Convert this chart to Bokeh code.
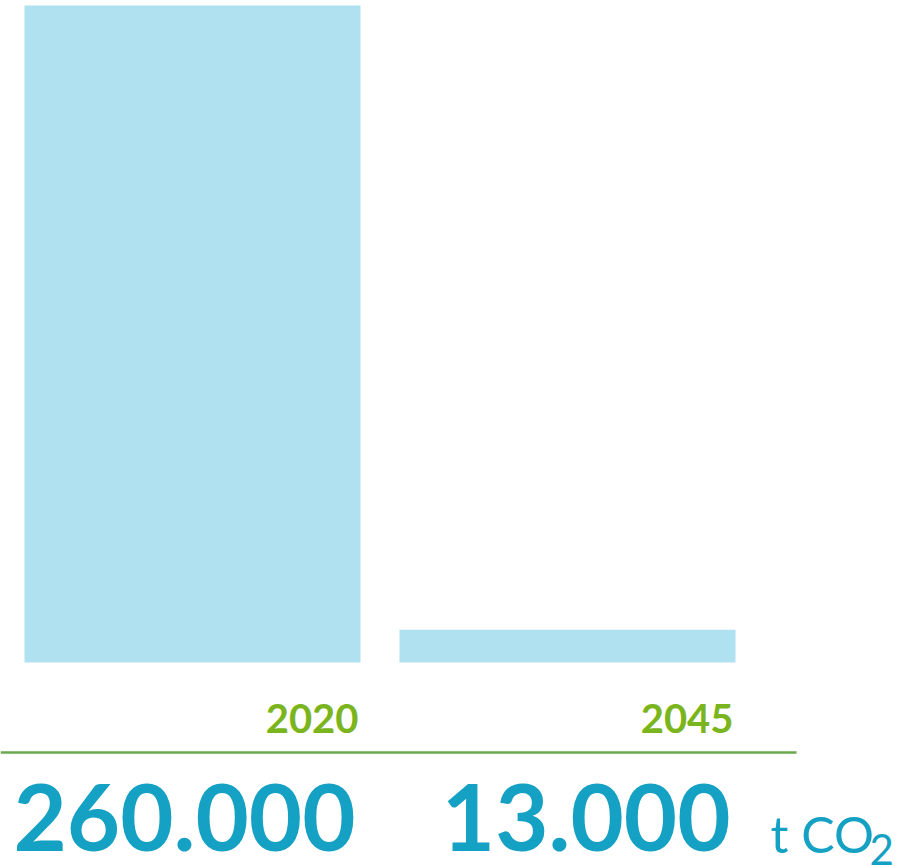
from bokeh.plotting import figure
from bokeh.models import Label, Range1d, ColumnDataSource
from bokeh.embed import file_html
from bokeh.resources import INLINE

years = ["2020", "2045"]
emissions = [260000, 13000]
unit_main = "t CO"
unit_sub = "2"

BAR = "#b0e1f0"
GREEN = "#7ab51d"
LINE = "#6aa84f"
TEAL = "#15a1c3"
FONT = "Lato"

idx = list(range(len(years)))
src = ColumnDataSource(dict(x=idx, top=emissions))

W, H = 910, 866
p = figure(width=W, height=H, output_backend="svg", toolbar_location=None,
           x_range=Range1d(-0.512, -0.512 + W / 375.0),
           y_range=Range1d(-(204 / 657) * 260000, (662 / 657) * 260000),
           min_border=0)
p.axis.visible = False
p.grid.visible = False
p.outline_line_color = None
p.background_fill_color = "white"
p.border_fill_color = "white"

p.vbar(x="x", top="top", bottom=0, width=0.896, source=src,
       fill_color=BAR, line_color=None)

# green separator line
y_line = (662 - 752) / 657 * 260000
p.segment(x0=[-0.512], x1=[-0.512 + 796 / 375.0], y0=[y_line], y1=[y_line],
          line_color=LINE, line_width=2.5)

for i, (yr, v) in enumerate(zip(years, emissions)):
    right = i + 0.448
    p.add_layout(Label(x=right, y=H - 733 + 15, x_units="data", y_units="screen",
                       x_offset=-2, text=yr, text_align="right",
                       text_baseline="alphabetic", text_font=FONT,
                       text_font_style="bold", text_font_size="40px",
                       text_color=GREEN))
    txt = f"{v:,}".replace(",", ".")
    p.add_layout(Label(x=right, y=H - 850 + 33, x_units="data", y_units="screen",
                       x_offset=-5, text=txt, text_align="right",
                       text_baseline="alphabetic", text_font=FONT,
                       text_font_style="bold", text_font_size="92px",
                       text_color=TEAL))

p.add_layout(Label(x=770, y=H - 852 + 19, x_units="screen", y_units="screen",
                   text=unit_main, text_align="left", text_baseline="alphabetic",
                   text_font=FONT, text_font_size="50px", text_color=TEAL))
p.add_layout(Label(x=869, y=H - 865 + 16, x_units="screen", y_units="screen",
                   text=unit_sub, text_align="left", text_baseline="alphabetic",
                   text_font=FONT, text_font_size="42px", text_color=TEAL))

open("out.html", "w").write(file_html(p, INLINE))
